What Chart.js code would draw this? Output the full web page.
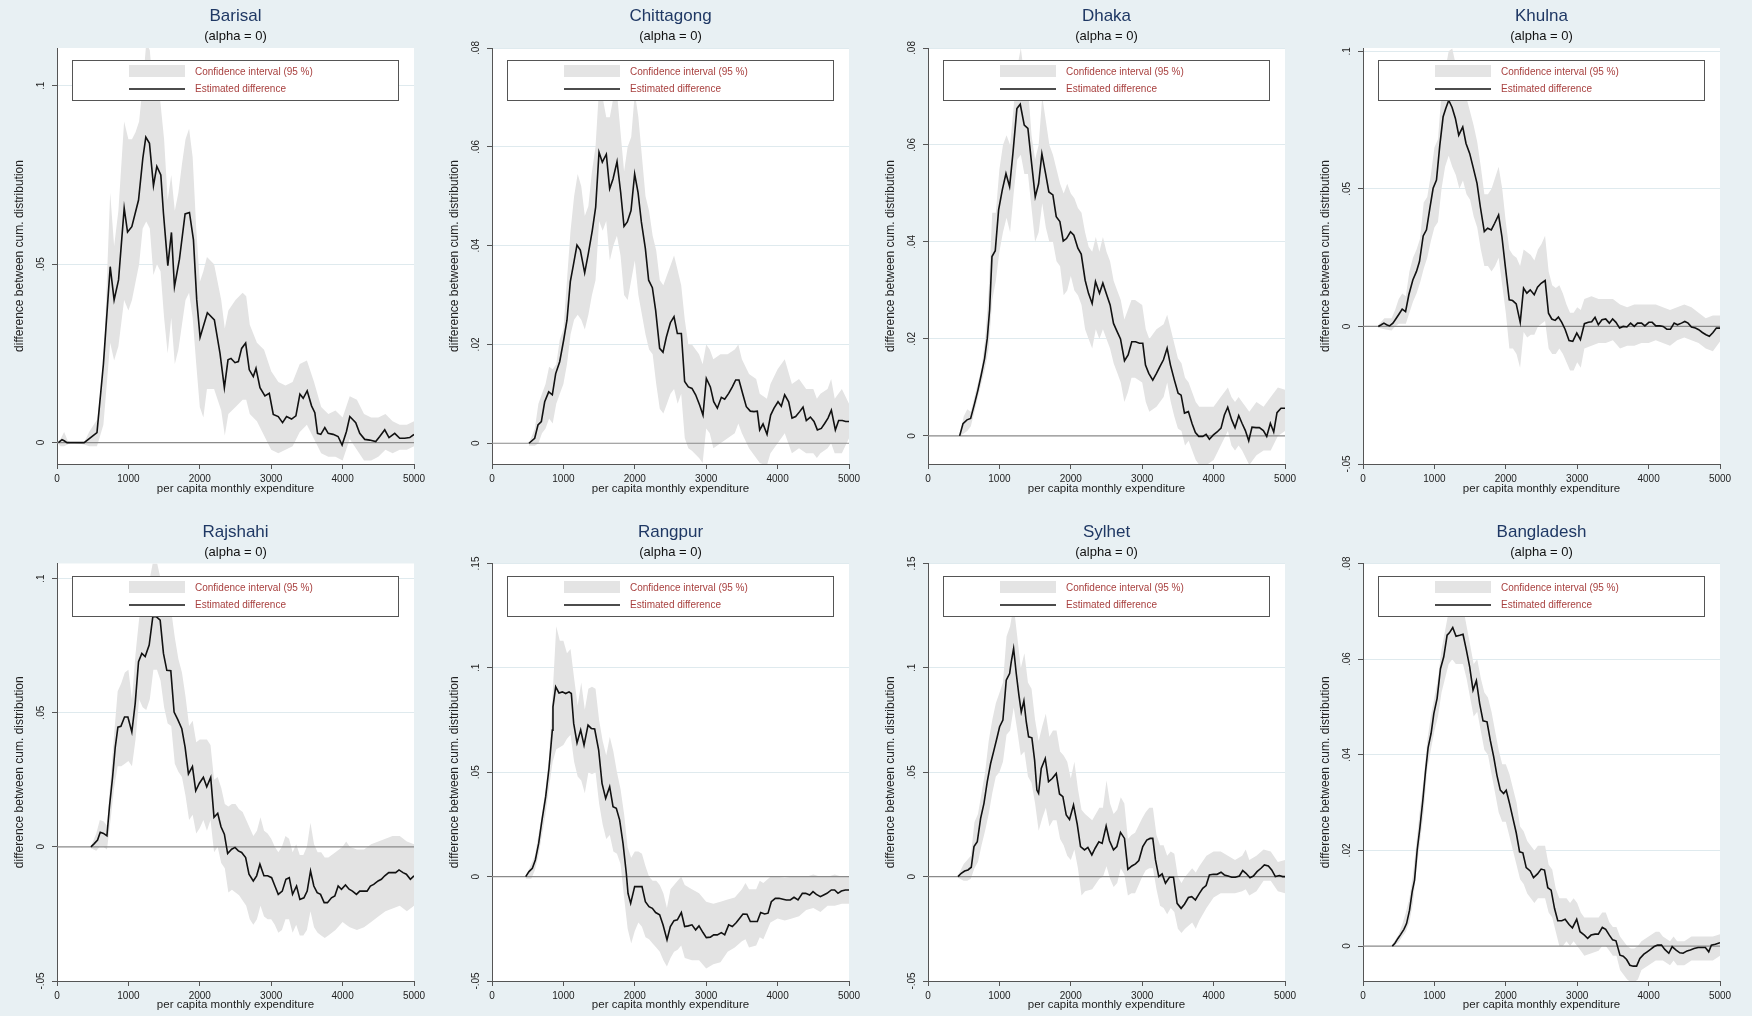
<!DOCTYPE html>
<html>
<head>
<meta charset="utf-8">
<script src="https://cdn.jsdelivr.net/npm/chart.js"></script>
<style>
  body { margin: 0; background: #e8f0f3; }
  #wrap { position: relative; width: 1752px; height: 1016px; }
  #wrap canvas { position: absolute; }
</style>
</head>
<body>
<div id="wrap"></div>
<script>
// ---- data ----
var regionNames = ['Barisal', 'Chittagong', 'Dhaka', 'Khulna', 'Rajshahi', 'Rangpur', 'Sylhet', 'Bangladesh'];
var subtitleText = '(alpha = 0)';
var legendLabels = ['Confidence interval (95 %)', 'Estimated difference'];
var xTitle = 'per capita monthly expenditure';
var yTitle = 'difference between cum. distribution';
var xTicks = [0, 1000, 2000, 3000, 4000, 5000];
var zeroLine = [[0, 0], [5000, 0]];

// y ranges and tick labels per panel
var yRanges = [[-0.006, 0.1106], [-0.0042, 0.08], [-0.0058, 0.08], [-0.05, 0.1012],
               [-0.05, 0.1056], [-0.05, 0.15], [-0.05, 0.15], [-0.0073, 0.08]];
var yTicks = [[0, 0.05, 0.1], [0, 0.02, 0.04, 0.06, 0.08], [0, 0.02, 0.04, 0.06, 0.08], [-0.05, 0, 0.05, 0.1],
              [-0.05, 0, 0.05, 0.1], [-0.05, 0, 0.05, 0.1, 0.15], [-0.05, 0, 0.05, 0.1, 0.15], [0, 0.02, 0.04, 0.06, 0.08]];

// estimated difference [x, y]
var barisalLine = [[20,0],[70,0.0008],[100,0.0005],[140,0],[380,0],[560,0.0028],[650,0.022],[745,0.0493],[800,0.040],[862,0.0456],[941,0.0657],[988,0.059],[1048,0.0605],[1142,0.068],[1202,0.0797],[1244,0.0856],[1295,0.0839],[1351,0.072],[1398,0.0774],[1454,0.075],[1491,0.0643],[1552,0.0496],[1603,0.0589],[1645,0.0437],[1715,0.0514],[1794,0.0641],[1855,0.0645],[1911,0.0568],[1957,0.04],[2004,0.0295],[2106,0.0364],[2204,0.0344],[2283,0.025],[2344,0.0154],[2395,0.0232],[2437,0.0236],[2493,0.0224],[2540,0.0227],[2586,0.0264],[2642,0.0279],[2693,0.0204],[2749,0.0185],[2787,0.0208],[2843,0.0154],[2912,0.0131],[2973,0.0138],[3029,0.0079],[3099,0.0073],[3159,0.0056],[3215,0.0073],[3285,0.0066],[3346,0.0075],[3402,0.0136],[3448,0.0124],[3504,0.0145],[3565,0.0103],[3611,0.0084],[3649,0.0026],[3695,0.0023],[3751,0.0042],[3798,0.0026],[3868,0.0023],[3937,0.0017],[3993,-0.0007],[4054,0.0031],[4101,0.0073],[4184,0.0056],[4240,0.0026],[4310,0.0009],[4380,0.0007],[4464,0.0003],[4520,0.0017],[4590,0.0036],[4650,0.0014],[4730,0.0026],[4800,0.0012],[4870,0.0012],[4940,0.0014],[5000,0.0023]];
var chittagongLine = [[518,0],[598,0.001],[644,0.0037],[691,0.0044],[738,0.0084],[794,0.0104],[845,0.0098],[892,0.0141],[948,0.0165],[1004,0.0209],[1050,0.0249],[1097,0.0327],[1144,0.0364],[1190,0.0401],[1237,0.0391],[1298,0.0345],[1349,0.0384],[1405,0.0431],[1452,0.0478],[1499,0.0589],[1545,0.0569],[1601,0.0585],[1648,0.0515],[1695,0.0535],[1751,0.057],[1802,0.0508],[1849,0.0439],[1895,0.0448],[1947,0.0471],[1998,0.0545],[2045,0.0508],[2092,0.0448],[2148,0.0394],[2194,0.033],[2246,0.0315],[2292,0.0269],[2348,0.0192],[2395,0.0184],[2442,0.0215],[2498,0.0244],[2549,0.0256],[2596,0.0222],[2652,0.0222],[2698,0.0125],[2750,0.0114],[2801,0.0111],[2852,0.0098],[2909,0.0077],[2955,0.0057],[3002,0.0131],[3058,0.0114],[3105,0.0084],[3156,0.0071],[3212,0.0093],[3259,0.0089],[3315,0.0101],[3366,0.0114],[3413,0.0128],[3459,0.0128],[3515,0.0098],[3562,0.0074],[3618,0.0065],[3669,0.0064],[3716,0.0065],[3749,0.0027],[3796,0.0039],[3852,0.0018],[3903,0.0057],[3950,0.0071],[4006,0.0084],[4052,0.0075],[4099,0.0098],[4155,0.0084],[4202,0.0051],[4253,0.0054],[4309,0.0064],[4356,0.0073],[4402,0.0046],[4459,0.0053],[4510,0.0044],[4557,0.0027],[4612,0.003],[4659,0.004],[4706,0.0051],[4753,0.0067],[4809,0.0027],[4855,0.0046],[4907,0.0046],[4953,0.0044],[5000,0.0044]];
var dhakaLine = [[443,0],[490,0.0025],[546,0.0033],[597,0.0036],[653,0.0067],[700,0.0095],[746,0.0126],[793,0.016],[830,0.0201],[863,0.026],[896,0.037],[942,0.0382],[989,0.0466],[1040,0.0507],[1092,0.0541],[1143,0.0514],[1189,0.0582],[1245,0.0675],[1292,0.0684],[1348,0.0641],[1399,0.0634],[1451,0.0562],[1502,0.0493],[1549,0.052],[1595,0.0582],[1647,0.0541],[1693,0.0503],[1749,0.0497],[1796,0.0452],[1847,0.0442],[1894,0.0402],[1940,0.0407],[1996,0.0421],[2043,0.0414],[2099,0.0387],[2146,0.0375],[2201,0.0321],[2248,0.0294],[2299,0.0273],[2346,0.0318],[2402,0.0294],[2449,0.0315],[2505,0.029],[2551,0.027],[2598,0.0232],[2649,0.0215],[2696,0.02],[2752,0.0155],[2803,0.0167],[2854,0.0194],[2906,0.0194],[2962,0.0191],[3008,0.0191],[3046,0.0146],[3092,0.0129],[3148,0.0115],[3200,0.0129],[3251,0.0144],[3298,0.0157],[3349,0.0181],[3396,0.0146],[3451,0.0115],[3503,0.0088],[3545,0.0084],[3592,0.0047],[3647,0.005],[3699,0.0025],[3745,0.0007],[3792,-0.0001],[3848,-0.0001],[3895,0.0003],[3941,-0.0007],[3997,0.0002],[4049,0.0008],[4104,0.0016],[4151,0.0043],[4198,0.0059],[4254,0.0033],[4300,0.0017],[4352,0.0042],[4398,0.0026],[4445,0.0011],[4492,-0.001],[4538,0.0018],[4594,0.0017],[4641,0.0017],[4697,0.0011],[4744,-0.0001],[4795,0.0026],[4842,0.0008],[4888,0.0048],[4944,0.0057],[5000,0.0057]];
var khulnaLine = [[214,0],[256,0.0006],[293,0.0012],[330,0.0006],[372,0.0002],[419,0.0012],[466,0.003],[512,0.0048],[549,0.0063],[596,0.0054],[642,0.0115],[698,0.0169],[749,0.02],[791,0.0236],[843,0.0329],[889,0.0351],[936,0.0429],[982,0.0502],[1029,0.0532],[1076,0.0659],[1122,0.0762],[1159,0.0792],[1201,0.0822],[1248,0.0796],[1294,0.0756],[1341,0.0695],[1397,0.0725],[1443,0.0665],[1494,0.0629],[1541,0.058],[1597,0.052],[1643,0.0435],[1699,0.0345],[1746,0.0357],[1797,0.0351],[1844,0.0375],[1899,0.0405],[1946,0.0326],[1993,0.0218],[2048,0.0097],[2095,0.0094],[2146,0.0082],[2202,0.0015],[2249,0.0139],[2295,0.0121],[2342,0.0133],[2398,0.0115],[2444,0.0143],[2495,0.0157],[2551,0.0167],[2598,0.0048],[2644,0.0027],[2691,0.0022],[2737,0.0034],[2784,0.0015],[2830,-0.001],[2886,-0.0051],[2938,-0.0054],[2994,-0.0024],[3045,-0.0048],[3101,0.001],[3156,0.0015],[3203,0.0017],[3250,0.0033],[3296,0.0006],[3347,0.0024],[3399,0.0027],[3450,0.0012],[3496,0.0027],[3543,0.0015],[3594,-0.0006],[3645,0],[3696,-0.0002],[3748,0.0012],[3799,0],[3845,0.0012],[3901,0.0012],[3948,0.0002],[4004,0.0015],[4050,0.0015],[4101,0.0002],[4157,0.0002],[4204,0],[4255,-0.001],[4306,-0.001],[4358,0.0012],[4404,0.0006],[4460,0.0012],[4507,0.0018],[4553,0.0012],[4600,-0.0002],[4656,-0.0006],[4702,-0.0012],[4753,-0.0022],[4804,-0.003],[4851,-0.0036],[4902,-0.0022],[4949,-0.0006],[5000,-0.0006]];
var rajshahiLine = [[475,0],[522,0.0012],[568,0.0025],[606,0.0054],[652,0.005],[699,0.0041],[736,0.0153],[778,0.0259],[816,0.0372],[853,0.0446],[895,0.0449],[946,0.0484],[993,0.0484],[1048,0.0428],[1095,0.0534],[1142,0.069],[1188,0.0721],[1235,0.0709],[1291,0.0752],[1342,0.0858],[1389,0.0858],[1445,0.0845],[1491,0.0721],[1538,0.0658],[1594,0.0656],[1640,0.0502],[1692,0.0474],[1748,0.044],[1794,0.0372],[1841,0.0272],[1897,0.0299],[1943,0.0209],[1994,0.0237],[2050,0.0259],[2097,0.0224],[2153,0.0259],[2199,0.011],[2251,0.0125],[2297,0.0075],[2344,0.0047],[2390,-0.0025],[2446,-0.0009],[2493,-0.0002],[2540,-0.0015],[2586,-0.0021],[2642,-0.004],[2689,-0.0102],[2749,-0.0127],[2796,-0.0108],[2842,-0.0065],[2898,-0.0108],[2950,-0.0108],[3006,-0.0115],[3052,-0.0146],[3099,-0.0177],[3155,-0.0165],[3206,-0.0121],[3253,-0.0115],[3299,-0.0177],[3355,-0.0146],[3402,-0.0196],[3458,-0.019],[3504,-0.0165],[3551,-0.009],[3597,-0.0146],[3644,-0.0171],[3691,-0.0177],[3742,-0.0208],[3788,-0.0208],[3844,-0.019],[3891,-0.0183],[3938,-0.0146],[3984,-0.0158],[4040,-0.0142],[4091,-0.0158],[4138,-0.0165],[4194,-0.0177],[4240,-0.0165],[4287,-0.0165],[4343,-0.0165],[4389,-0.0146],[4436,-0.014],[4497,-0.0127],[4543,-0.0121],[4590,-0.0108],[4646,-0.0096],[4692,-0.0096],[4743,-0.0096],[4790,-0.0086],[4846,-0.0096],[4893,-0.0102],[4949,-0.0121],[5000,-0.0108]];
var rangpurLine = [[472,0],[518,0.0024],[565,0.004],[607,0.008],[654,0.016],[700,0.0271],[752,0.0383],[798,0.0518],[845,0.0702],[854,0.0813],[892,0.0909],[938,0.088],[985,0.0885],[1032,0.0877],[1079,0.0885],[1111,0.0877],[1144,0.0734],[1191,0.0641],[1242,0.0702],[1289,0.063],[1345,0.0726],[1391,0.071],[1438,0.0707],[1494,0.0606],[1541,0.0447],[1592,0.0375],[1648,0.0431],[1695,0.0335],[1741,0.0327],[1788,0.0271],[1835,0.0159],[1881,0.0016],[1905,-0.008],[1942,-0.0128],[1998,-0.0048],[2045,-0.0048],[2101,-0.0048],[2148,-0.012],[2199,-0.0144],[2246,-0.0152],[2292,-0.0172],[2348,-0.0183],[2395,-0.0231],[2451,-0.0303],[2498,-0.0239],[2549,-0.0211],[2596,-0.0207],[2652,-0.0172],[2698,-0.0239],[2750,-0.0236],[2801,-0.0231],[2852,-0.0255],[2899,-0.0236],[2955,-0.0268],[3002,-0.0292],[3058,-0.029],[3105,-0.0279],[3156,-0.0279],[3212,-0.0268],[3259,-0.0279],[3315,-0.0231],[3366,-0.0239],[3422,-0.022],[3469,-0.0199],[3515,-0.0179],[3571,-0.018],[3618,-0.0215],[3669,-0.0215],[3716,-0.0215],[3763,-0.0172],[3819,-0.0179],[3866,-0.0175],[3912,-0.012],[3968,-0.0104],[4020,-0.0104],[4076,-0.0108],[4122,-0.0112],[4178,-0.0112],[4230,-0.0099],[4286,-0.0112],[4347,-0.008],[4393,-0.008],[4449,-0.0088],[4496,-0.0072],[4543,-0.0085],[4599,-0.0096],[4645,-0.0088],[4692,-0.008],[4753,-0.0064],[4799,-0.0064],[4846,-0.008],[4893,-0.0069],[4949,-0.0064],[5000,-0.0064]];
var sylhetLine = [[420,0],[466,0.0016],[513,0.0027],[560,0.0032],[606,0.0045],[644,0.0144],[690,0.0167],[737,0.0279],[784,0.0351],[830,0.0455],[877,0.0542],[924,0.0606],[970,0.067],[1003,0.0718],[1049,0.075],[1096,0.0941],[1143,0.0973],[1166,0.1029],[1199,0.1093],[1236,0.0973],[1273,0.0869],[1306,0.0789],[1343,0.0842],[1376,0.0742],[1409,0.067],[1455,0.0665],[1493,0.0558],[1525,0.0415],[1549,0.0399],[1586,0.0518],[1642,0.0566],[1688,0.0455],[1740,0.047],[1796,0.0494],[1842,0.0396],[1889,0.0383],[1936,0.0295],[1982,0.0274],[2038,0.0343],[2090,0.0252],[2136,0.0144],[2192,0.0128],[2239,0.014],[2295,0.0104],[2341,0.0136],[2393,0.0167],[2439,0.0159],[2495,0.0242],[2542,0.0172],[2598,0.0128],[2645,0.0144],[2696,0.0212],[2752,0.0183],[2799,0.0035],[2855,0.0051],[2906,0.0061],[2953,0.0077],[3008,0.0144],[3064,0.0175],[3111,0.0183],[3148,0.0183],[3186,0.008],[3232,0],[3279,0.0013],[3326,-0.0032],[3382,-0.0003],[3438,-0.0003],[3489,-0.0128],[3545,-0.0152],[3592,-0.0132],[3647,-0.01],[3694,-0.0096],[3745,-0.0112],[3801,-0.008],[3848,-0.0056],[3895,-0.0043],[3941,0.0008],[3997,0.0011],[4049,0.0011],[4104,0.0021],[4151,0.0008],[4202,0.0003],[4254,-0.0003],[4305,-0.0003],[4361,0.0003],[4408,0.0029],[4454,0.0016],[4510,-0.0005],[4557,0.0003],[4608,0.0024],[4664,0.004],[4711,0.0056],[4767,0.0051],[4814,0.0032],[4865,0],[4921,0.0005],[4967,0],[5000,0]];
var bangladeshLine = [[410,0],[447,0.0006],[489,0.0016],[526,0.0024],[573,0.0035],[610,0.0047],[652,0.0075],[689,0.0114],[722,0.0138],[759,0.0201],[796,0.0246],[838,0.0305],[875,0.0364],[912,0.0415],[954,0.0445],[992,0.0486],[1038,0.0518],[1085,0.058],[1131,0.0605],[1178,0.065],[1210,0.0655],[1257,0.0666],[1303,0.0648],[1355,0.065],[1401,0.0652],[1448,0.0619],[1494,0.0584],[1541,0.0535],[1588,0.0555],[1634,0.0507],[1681,0.0471],[1737,0.0469],[1783,0.043],[1830,0.0396],[1876,0.0357],[1923,0.0326],[1969,0.0319],[2006,0.0326],[2053,0.0298],[2100,0.0267],[2146,0.0237],[2193,0.0197],[2239,0.0195],[2286,0.0164],[2342,0.0157],[2388,0.0143],[2444,0.0151],[2495,0.0161],[2542,0.0159],[2588,0.0122],[2635,0.0117],[2682,0.0079],[2728,0.0053],[2784,0.0053],[2831,0.0056],[2886,0.0045],[2933,0.0038],[2993,0.0056],[3040,0.003],[3101,0.0023],[3147,0.0016],[3194,0.0023],[3250,0.0025],[3296,0.0025],[3352,0.0039],[3399,0.0035],[3450,0.0023],[3496,0.0013],[3543,0.0011],[3599,-0.0019],[3645,-0.0021],[3692,-0.0028],[3738,-0.004],[3785,-0.0042],[3832,-0.0042],[3878,-0.0026],[3934,-0.0017],[3980,-0.0012],[4027,-0.0007],[4078,-0.0001],[4125,0.0002],[4181,0.0002],[4227,-0.0007],[4283,-0.0015],[4330,-0.0001],[4381,-0.0008],[4437,-0.0014],[4483,-0.0015],[4539,-0.001],[4585,-0.0008],[4637,-0.0005],[4693,-0.0003],[4739,-0.0003],[4795,-0.0003],[4842,-0.0012],[4879,0.0002],[4935,0.0004],[5000,0.0007]];

// confidence band [x, lower, upper]
var barisalBand = [[0,0,0],[50,-0.001,0.001],[100,-0.001,0.003],[150,-0.0005,0.0005],[200,0,0],[380,-0.0005,0],[450,-0.001,0.003],[560,-0.001,0.0064],[650,0.005,0.02],[745,0.028,0.07],[800,0.023,0.055],[860,0.027,0.065],[940,0.04,0.09],[1000,0.037,0.085],[1050,0.04,0.085],[1100,0.045,0.087],[1150,0.05,0.09],[1200,0.06,0.1],[1250,0.062,0.112],[1300,0.06,0.11],[1350,0.047,0.098],[1400,0.05,0.105],[1450,0.048,0.095],[1500,0.035,0.085],[1550,0.025,0.068],[1600,0.035,0.075],[1650,0.022,0.065],[1700,0.026,0.07],[1750,0.033,0.078],[1800,0.04,0.085],[1850,0.042,0.088],[1900,0.035,0.08],[1950,0.022,0.06],[2000,0.01,0.045],[2050,0.007,0.048],[2100,0.015,0.052],[2200,0.015,0.05],[2300,0.009,0.04],[2350,0.002,0.032],[2400,0.008,0.037],[2500,0.01,0.04],[2600,0.012,0.042],[2650,0.012,0.041],[2700,0.008,0.033],[2800,0.006,0.028],[2900,0.002,0.026],[3000,-0.002,0.02],[3100,-0.003,0.017],[3200,-0.002,0.016],[3300,-0.001,0.017],[3400,0.003,0.022],[3500,0.005,0.023],[3600,0.001,0.017],[3700,-0.003,0.01],[3800,-0.004,0.008],[3900,-0.004,0.009],[4000,-0.005,0.007],[4100,0.001,0.013],[4200,-0.002,0.012],[4300,-0.005,0.008],[4400,-0.005,0.007],[4500,-0.004,0.007],[4600,-0.002,0.008],[4700,-0.003,0.006],[4800,-0.002,0.005],[4900,-0.002,0.005],[5000,-0.001,0.006]];
var chittagongBand = [[518,-0.0005,0],[600,-0.0005,0.003],[650,0,0.008],[700,0.002,0.01],[750,0.003,0.012],[800,0.005,0.0155],[850,0.004,0.015],[900,0.008,0.016],[950,0.01,0.021],[1000,0.012,0.023],[1050,0.016,0.033],[1100,0.022,0.043],[1150,0.025,0.05],[1200,0.026,0.0545],[1250,0.025,0.052],[1300,0.023,0.046],[1350,0.026,0.048],[1400,0.03,0.055],[1450,0.033,0.06],[1500,0.045,0.072],[1550,0.043,0.07],[1600,0.045,0.066],[1650,0.037,0.066],[1700,0.04,0.07],[1750,0.042,0.071],[1800,0.038,0.063],[1850,0.03,0.055],[1900,0.029,0.06],[1950,0.033,0.062],[2000,0.037,0.071],[2050,0.03,0.066],[2100,0.026,0.058],[2150,0.022,0.05],[2200,0.019,0.047],[2250,0.018,0.042],[2300,0.012,0.039],[2350,0.007,0.033],[2400,0.006,0.032],[2450,0.008,0.034],[2500,0.01,0.036],[2550,0.011,0.038],[2600,0.008,0.035],[2650,0.01,0.032],[2700,0.001,0.025],[2750,-0.001,0.02],[2800,-0.0015,0.02],[2900,-0.003,0.018],[2950,-0.004,0.016],[3000,0.003,0.02],[3050,0.002,0.019],[3100,-0.001,0.017],[3200,0,0.018],[3300,0.001,0.018],[3400,0.002,0.019],[3450,0.004,0.02],[3500,0.002,0.017],[3600,-0.001,0.014],[3700,-0.003,0.013],[3750,-0.004,0.01],[3850,-0.0045,0.009],[3900,-0.002,0.012],[4000,0,0.015],[4100,0.002,0.017],[4200,-0.002,0.012],[4300,-0.001,0.013],[4400,-0.002,0.011],[4500,-0.002,0.011],[4550,-0.003,0.009],[4600,-0.002,0.01],[4700,-0.001,0.011],[4750,0,0.013],[4800,-0.002,0.009],[4900,-0.002,0.011],[5000,0.001,0.008]];
var dhakaBand = [[443,0,0],[500,0.0005,0.004],[550,0.001,0.0055],[600,0.002,0.005],[650,0.005,0.008],[700,0.008,0.011],[750,0.011,0.014],[800,0.014,0.02],[850,0.018,0.03],[900,0.028,0.046],[950,0.032,0.046],[1000,0.038,0.055],[1050,0.042,0.06],[1100,0.045,0.062],[1150,0.042,0.06],[1200,0.05,0.068],[1250,0.057,0.076],[1300,0.058,0.08],[1350,0.054,0.074],[1400,0.054,0.072],[1450,0.047,0.062],[1500,0.04,0.057],[1550,0.042,0.06],[1600,0.048,0.07],[1650,0.043,0.065],[1700,0.04,0.06],[1750,0.04,0.058],[1800,0.036,0.055],[1850,0.035,0.052],[1900,0.029,0.05],[1950,0.03,0.052],[2000,0.033,0.05],[2050,0.03,0.049],[2100,0.029,0.047],[2150,0.027,0.046],[2200,0.022,0.042],[2250,0.02,0.039],[2300,0.018,0.038],[2350,0.022,0.041],[2400,0.02,0.038],[2450,0.022,0.041],[2500,0.02,0.038],[2550,0.018,0.036],[2600,0.015,0.032],[2650,0.013,0.03],[2700,0.011,0.028],[2750,0.007,0.024],[2800,0.009,0.026],[2850,0.012,0.028],[2900,0.012,0.028],[3000,0.011,0.027],[3050,0.007,0.022],[3100,0.005,0.02],[3200,0.006,0.022],[3300,0.008,0.023],[3350,0.011,0.025],[3400,0.007,0.022],[3450,0.004,0.019],[3500,0.0015,0.016],[3550,0.001,0.015],[3600,-0.002,0.012],[3650,-0.001,0.011],[3700,-0.003,0.009],[3750,-0.005,0.007],[3800,-0.006,0.006],[3900,-0.006,0.006],[4000,-0.005,0.006],[4100,-0.002,0.008],[4200,0.001,0.01],[4250,-0.002,0.008],[4300,-0.003,0.007],[4350,-0.002,0.008],[4400,-0.003,0.007],[4500,-0.006,0.005],[4600,-0.004,0.007],[4700,-0.003,0.006],[4800,-0.003,0.008],[4900,0,0.01],[5000,0.001,0.0095]];
var khulnaBand = [[214,-0.0005,0.0005],[300,-0.001,0.003],[400,-0.0015,0.003],[450,0,0.006],[500,0.001,0.01],[550,0.001,0.012],[600,0.001,0.011],[650,0.005,0.02],[700,0.009,0.025],[750,0.012,0.028],[800,0.016,0.032],[850,0.021,0.045],[900,0.025,0.047],[950,0.031,0.055],[1000,0.036,0.065],[1050,0.038,0.068],[1100,0.05,0.085],[1150,0.058,0.093],[1200,0.062,0.1],[1250,0.058,0.101],[1300,0.055,0.095],[1350,0.05,0.087],[1400,0.053,0.09],[1450,0.048,0.083],[1500,0.046,0.078],[1550,0.04,0.073],[1600,0.036,0.067],[1650,0.028,0.058],[1700,0.022,0.048],[1750,0.022,0.048],[1800,0.02,0.05],[1850,0.022,0.054],[1900,0.025,0.058],[1950,0.015,0.05],[2000,0.005,0.038],[2050,-0.008,0.028],[2100,-0.008,0.026],[2150,-0.01,0.025],[2200,-0.015,0.022],[2250,-0.002,0.028],[2300,-0.004,0.027],[2350,-0.003,0.026],[2400,-0.003,0.024],[2450,0,0.028],[2500,0.001,0.03],[2550,0.002,0.033],[2600,-0.008,0.02],[2650,-0.01,0.015],[2700,-0.01,0.014],[2750,-0.008,0.015],[2800,-0.01,0.012],[2850,-0.013,0.008],[2900,-0.016,0.005],[2950,-0.016,0.005],[3000,-0.013,0.007],[3050,-0.015,0.006],[3100,-0.008,0.01],[3200,-0.007,0.011],[3300,-0.006,0.01],[3400,-0.006,0.01],[3500,-0.005,0.01],[3600,-0.008,0.008],[3700,-0.007,0.007],[3800,-0.007,0.008],[3900,-0.006,0.008],[4000,-0.006,0.008],[4100,-0.005,0.008],[4200,-0.006,0.007],[4300,-0.007,0.006],[4400,-0.005,0.007],[4500,-0.004,0.008],[4600,-0.005,0.007],[4700,-0.006,0.005],[4800,-0.008,0.003],[4900,-0.009,0.004],[5000,-0.0055,0.004]];
var rajshahiBand = [[475,-0.0005,0],[550,-0.0015,0.005],[600,0,0.01],[650,0,0.0095],[700,-0.001,0.008],[750,0.01,0.025],[800,0.022,0.042],[850,0.03,0.058],[900,0.03,0.061],[950,0.031,0.065],[1000,0.032,0.066],[1050,0.03,0.055],[1100,0.04,0.072],[1150,0.055,0.085],[1200,0.052,0.092],[1250,0.051,0.092],[1300,0.055,0.1],[1350,0.066,0.107],[1400,0.066,0.106],[1450,0.062,0.1],[1500,0.052,0.093],[1550,0.046,0.086],[1600,0.045,0.088],[1650,0.031,0.078],[1700,0.028,0.07],[1750,0.026,0.065],[1800,0.019,0.056],[1850,0.01,0.045],[1900,0.012,0.047],[1950,0.005,0.039],[2000,0.007,0.04],[2050,0.01,0.04],[2100,0.006,0.04],[2150,0.01,0.038],[2200,-0.002,0.025],[2250,0,0.026],[2300,-0.006,0.022],[2350,-0.008,0.016],[2400,-0.017,0.015],[2450,-0.016,0.016],[2500,-0.017,0.016],[2550,-0.018,0.014],[2600,-0.02,0.013],[2650,-0.022,0.01],[2700,-0.027,0.007],[2750,-0.029,0.004],[2800,-0.027,0.006],[2850,-0.022,0.011],[2900,-0.026,0.006],[2950,-0.027,0.005],[3000,-0.027,0.003],[3050,-0.029,0],[3100,-0.032,-0.002],[3150,-0.031,0],[3200,-0.027,0.004],[3250,-0.027,0.003],[3300,-0.032,-0.002],[3350,-0.029,0.001],[3400,-0.033,-0.003],[3450,-0.033,-0.003],[3500,-0.031,0],[3550,-0.024,0.009],[3600,-0.03,0.001],[3650,-0.032,-0.002],[3700,-0.033,-0.002],[3750,-0.034,-0.004],[3800,-0.033,-0.004],[3900,-0.031,-0.002],[4000,-0.028,0],[4050,-0.029,0.002],[4100,-0.03,0],[4200,-0.031,-0.001],[4300,-0.03,-0.001],[4400,-0.028,0.001],[4500,-0.026,0.002],[4600,-0.024,0.003],[4700,-0.023,0.004],[4800,-0.022,0.004],[4900,-0.024,0.002],[5000,-0.022,0.001]];
var rangpurBand = [[472,-0.001,0],[550,-0.001,0.006],[600,0.003,0.01],[650,0.01,0.02],[700,0.02,0.03],[750,0.03,0.042],[800,0.043,0.058],[850,0.055,0.088],[900,0.061,0.12],[950,0.062,0.113],[1000,0.063,0.113],[1050,0.066,0.107],[1100,0.068,0.109],[1150,0.055,0.095],[1200,0.048,0.082],[1250,0.046,0.093],[1300,0.04,0.08],[1350,0.05,0.09],[1400,0.049,0.091],[1450,0.05,0.09],[1500,0.035,0.075],[1550,0.025,0.065],[1600,0.018,0.058],[1650,0.02,0.067],[1700,0.012,0.06],[1750,0.011,0.05],[1800,0.006,0.042],[1850,-0.01,0.03],[1900,-0.025,0.014],[1950,-0.032,0.009],[2000,-0.026,0.012],[2050,-0.022,0.012],[2100,-0.024,0.011],[2150,-0.029,0.005],[2200,-0.03,0],[2250,-0.032,-0.002],[2300,-0.034,-0.002],[2350,-0.036,-0.004],[2400,-0.04,-0.008],[2450,-0.043,-0.015],[2500,-0.039,-0.006],[2550,-0.036,-0.004],[2600,-0.035,-0.002],[2650,-0.033,0],[2700,-0.039,-0.004],[2800,-0.04,-0.006],[2900,-0.04,-0.008],[3000,-0.044,-0.012],[3100,-0.042,-0.013],[3200,-0.041,-0.012],[3300,-0.036,-0.011],[3400,-0.034,-0.01],[3500,-0.031,-0.006],[3550,-0.03,-0.003],[3600,-0.034,-0.006],[3700,-0.033,-0.006],[3750,-0.029,-0.002],[3800,-0.03,-0.003],[3900,-0.022,0],[4000,-0.02,0],[4100,-0.021,-0.0005],[4200,-0.02,0],[4300,-0.019,0],[4400,-0.016,0],[4500,-0.015,0.001],[4600,-0.017,0],[4700,-0.014,0],[4800,-0.014,0.001],[4900,-0.013,0],[5000,-0.013,0]];
var sylhetBand = [[420,-0.0005,0.0005],[500,-0.002,0.006],[550,-0.002,0.008],[600,-0.001,0.01],[650,0.004,0.026],[700,0.007,0.03],[750,0.015,0.04],[800,0.022,0.05],[850,0.03,0.065],[900,0.04,0.075],[950,0.048,0.083],[1000,0.05,0.088],[1050,0.055,0.093],[1100,0.068,0.115],[1150,0.07,0.12],[1200,0.081,0.13],[1250,0.07,0.115],[1300,0.058,0.1],[1350,0.06,0.107],[1400,0.048,0.093],[1450,0.045,0.09],[1500,0.035,0.075],[1550,0.022,0.065],[1600,0.028,0.072],[1650,0.033,0.078],[1700,0.024,0.067],[1750,0.027,0.07],[1800,0.027,0.07],[1850,0.018,0.06],[1900,0.015,0.058],[1950,0.01,0.055],[2000,0.008,0.047],[2050,0.013,0.055],[2100,0.004,0.042],[2150,-0.009,0.032],[2200,-0.007,0.03],[2300,-0.006,0.027],[2400,-0.001,0.033],[2450,0,0.033],[2500,0.005,0.046],[2550,-0.001,0.035],[2600,-0.005,0.03],[2650,-0.003,0.032],[2700,0.004,0.038],[2750,0.001,0.035],[2800,-0.009,0.018],[2850,-0.008,0.02],[2900,-0.008,0.021],[3000,0,0.028],[3050,0.003,0.031],[3100,0.004,0.033],[3150,0.004,0.033],[3200,-0.006,0.02],[3250,-0.014,0.015],[3300,-0.015,0.015],[3350,-0.018,0.01],[3400,-0.015,0.012],[3450,-0.017,0.011],[3500,-0.025,0],[3550,-0.027,-0.003],[3600,-0.025,0],[3700,-0.022,0.004],[3750,-0.025,0.002],[3800,-0.021,0.005],[3900,-0.015,0.01],[4000,-0.01,0.012],[4100,-0.008,0.012],[4200,-0.008,0.01],[4300,-0.008,0.008],[4400,-0.007,0.01],[4450,-0.006,0.013],[4500,-0.009,0.008],[4600,-0.007,0.01],[4700,-0.002,0.013],[4800,-0.002,0.012],[4900,-0.007,0.007],[5000,-0.008,0.008]];
var bangladeshBand = [[410,-0.0002,0.0003],[500,0.0008,0.0025],[550,0.002,0.0045],[600,0.003,0.007],[650,0.005,0.01],[700,0.009,0.015],[750,0.016,0.022],[800,0.022,0.029],[850,0.028,0.035],[900,0.037,0.043],[950,0.041,0.048],[1000,0.045,0.052],[1050,0.048,0.056],[1100,0.053,0.062],[1150,0.056,0.066],[1200,0.059,0.07],[1250,0.06,0.072],[1300,0.059,0.071],[1350,0.059,0.071],[1400,0.059,0.071],[1450,0.056,0.067],[1500,0.052,0.063],[1550,0.048,0.059],[1600,0.049,0.06],[1650,0.045,0.056],[1700,0.041,0.053],[1750,0.04,0.052],[1800,0.036,0.049],[1850,0.032,0.045],[1900,0.028,0.041],[1950,0.026,0.038],[2000,0.026,0.038],[2050,0.023,0.036],[2100,0.02,0.033],[2150,0.017,0.03],[2200,0.014,0.025],[2250,0.013,0.024],[2300,0.011,0.022],[2350,0.01,0.021],[2400,0.009,0.02],[2450,0.01,0.021],[2500,0.01,0.021],[2550,0.01,0.021],[2600,0.007,0.017],[2650,0.006,0.016],[2700,0.003,0.012],[2750,0,0.01],[2800,0,0.01],[2850,0.001,0.01],[2900,0,0.009],[2950,0.001,0.01],[3000,0,0.009],[3050,-0.001,0.007],[3100,-0.002,0.006],[3200,-0.0015,0.006],[3300,-0.001,0.006],[3350,0,0.007],[3400,0,0.007],[3450,-0.001,0.005],[3500,-0.002,0.004],[3550,-0.002,0.004],[3600,-0.005,0.002],[3650,-0.006,0.001],[3700,-0.007,0],[3750,-0.0075,-0.0005],[3800,-0.0075,-0.0005],[3850,-0.007,0],[3900,-0.005,0.001],[4000,-0.004,0.002],[4100,-0.003,0.003],[4150,-0.003,0.003],[4200,-0.003,0.002],[4300,-0.004,0.001],[4350,-0.003,0.002],[4400,-0.004,0.001],[4500,-0.004,0.001],[4600,-0.003,0.002],[4700,-0.003,0.002],[4800,-0.003,0.002],[4900,-0.003,0.002],[5000,-0.002,0.0025]];

var lines = [barisalLine, chittagongLine, dhakaLine, khulnaLine, rajshahiLine, rangpurLine, sylhetLine, bangladeshLine];
var bands = [barisalBand, chittagongBand, dhakaBand, khulnaBand, rajshahiBand, rangpurBand, sylhetBand, bangladeshBand];

// ---- layout ----
var FONT = "'Liberation Sans', Arial, sans-serif";
Chart.defaults.font.family = FONT;
var colLeft = [0, 435, 871, 1306];
var rows = [
  { top: 0,   h: 508, xAxisH: 44, titleTop: 6.5,  subBottom: 3.5, xTitleBottom: 11.8 },
  { top: 508, h: 508, xAxisH: 35, titleTop: 14.5, subBottom: 3,   xTitleBottom: 3.8 }
];

function fmtTick(v) {
  if (v === 0) return '0';
  return String(+v.toFixed(3)).replace('0.', '.');
}

var measure = document.createElement('canvas').getContext('2d');
measure.font = '10px ' + FONT;

var plotBg = {
  id: 'plotBg',
  beforeDraw: function(chart) {
    var a = chart.chartArea, ctx = chart.ctx;
    ctx.save();
    ctx.fillStyle = '#ffffff';
    ctx.fillRect(a.left, a.top, a.right - a.left, a.bottom - a.top);
    ctx.restore();
  }
};

var boxLegend = {
  id: 'boxLegend',
  afterDatasetsDraw: function(chart) {
    var a = chart.chartArea, ctx = chart.ctx;
    var x0 = Math.round(a.left + 15), x1 = Math.round(a.right - 16);
    var y0 = Math.round(a.top + 12), h = 40;
    ctx.save();
    ctx.fillStyle = '#ffffff';
    ctx.fillRect(x0, y0, x1 - x0, h);
    ctx.strokeStyle = '#555555';
    ctx.lineWidth = 1;
    ctx.strokeRect(x0 + 0.5, y0 + 0.5, x1 - x0, h);
    ctx.fillStyle = '#e4e4e4';
    ctx.fillRect(a.left + 72, y0 + 5, 56, 12);
    ctx.strokeStyle = '#111111';
    ctx.lineWidth = 1.6;
    ctx.beginPath();
    ctx.moveTo(a.left + 72, y0 + 29);
    ctx.lineTo(a.left + 128, y0 + 29);
    ctx.stroke();
    ctx.fillStyle = '#a8403f';
    ctx.font = '10px ' + FONT;
    ctx.textBaseline = 'middle';
    ctx.textAlign = 'left';
    ctx.fillText(legendLabels[0], a.left + 138, y0 + 12);
    ctx.fillText(legendLabels[1], a.left + 138, y0 + 29);
    ctx.restore();
  }
};

var wrap = document.getElementById('wrap');

regionNames.forEach(function(name, i) {
  var row = rows[Math.floor(i / 4)];
  var cv = document.createElement('canvas');
  cv.width = 435; cv.height = row.h;
  cv.style.left = colLeft[i % 4] + 'px';
  cv.style.top = row.top + 'px';
  wrap.appendChild(cv);

  var ticksY = yTicks[i];
  var widest = Math.max.apply(null, ticksY.map(function(v) { return measure.measureText(fmtTick(v)).width; }));
  var yPad = Math.max(0, 16 - 5 - widest / 2);

  new Chart(cv, {
    type: 'line',
    data: {
      datasets: [
        { data: bands[i].map(function(p) { return { x: p[0], y: p[1] }; }),
          borderWidth: 0, borderColor: 'rgba(0,0,0,0)', pointRadius: 0, fill: false, order: 3 },
        { data: bands[i].map(function(p) { return { x: p[0], y: p[2] }; }),
          borderWidth: 0, borderColor: 'rgba(0,0,0,0)', pointRadius: 0, fill: '-1',
          backgroundColor: '#e3e3e3', order: 2 },
        { data: zeroLine.map(function(p) { return { x: p[0], y: p[1] }; }),
          borderColor: '#8a8a8a', borderWidth: 1.2, pointRadius: 0, fill: false, order: 1 },
        { data: lines[i].map(function(p) { return { x: p[0], y: p[1] }; }),
          borderColor: '#111111', borderWidth: 1.6, pointRadius: 0, fill: false, order: 0 }
      ]
    },
    options: {
      responsive: false,
      animation: false,
      devicePixelRatio: 1,
      layout: { padding: { left: 0, right: 21, top: 0, bottom: 0 } },
      plugins: {
        legend: { display: false },
        tooltip: { enabled: false },
        title: { display: true, text: name, color: '#1f3864', fullSize: false,
                 font: { size: 17, weight: 'normal' }, padding: { top: row.titleTop, bottom: 2 } },
        subtitle: { display: true, text: subtitleText, color: '#111111', fullSize: false,
                    font: { size: 13, weight: 'normal' }, padding: { top: 0, bottom: row.subBottom } }
      },
      scales: {
        x: {
          type: 'linear', min: 0, max: 5000,
          afterBuildTicks: function(s) { s.ticks = xTicks.map(function(v) { return { value: v }; }); },
          afterFit: function(s) { s.height = row.xAxisH; },
          ticks: { font: { size: 10 }, color: '#222222', padding: 4, maxRotation: 0, autoSkip: false,
                   callback: function(v) { return String(v); } },
          grid: { drawOnChartArea: false, tickLength: 5, tickColor: '#555555' },
          border: { color: '#555555', width: 1 },
          title: { display: true, text: xTitle, color: '#222222', font: { size: 11.5 },
                   padding: { top: 0, bottom: row.xTitleBottom } }
        },
        y: {
          type: 'linear', min: yRanges[i][0], max: yRanges[i][1],
          afterBuildTicks: function(s) { s.ticks = ticksY.map(function(v) { return { value: v }; }); },
          afterFit: function(s) { s.width = 57; },
          ticks: { font: { size: 10 }, color: '#222222', minRotation: 90, maxRotation: 90,
                   crossAlign: 'center', padding: yPad, autoSkip: false, callback: fmtTick },
          grid: {
            color: function(c) { return (c.tick && c.tick.value === 0) ? 'rgba(0,0,0,0)' : '#dfeaee'; },
            tickLength: 5, tickColor: '#555555', lineWidth: 1
          },
          border: { color: '#555555', width: 1 },
          title: { display: true, text: yTitle, color: '#222222', font: { size: 12 },
                   padding: { top: 12.8, bottom: 0 } }
        }
      }
    },
    plugins: [plotBg, boxLegend]
  });
});
</script>
</body>
</html>
